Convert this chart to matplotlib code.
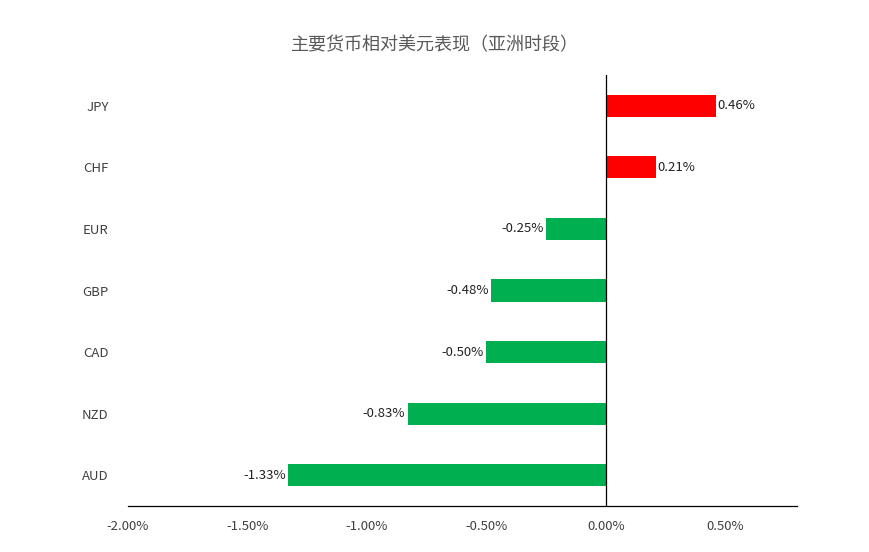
import matplotlib
matplotlib.use("Agg")
import matplotlib.pyplot as plt

plt.rcParams['font.family'] = ['Noto Sans CJK SC', 'DejaVu Sans']

categories = ["AUD", "NZD", "CAD", "GBP", "EUR", "CHF", "JPY"]
values = [-1.33, -0.83, -0.50, -0.48, -0.25, 0.21, 0.46]
xticks = [-2.0, -1.5, -1.0, -0.5, 0.0, 0.5]
title = "主要货币相对美元表现（亚洲时段）"

fig = plt.figure(figsize=(8.69, 5.52), dpi=100)
ax = fig.add_axes([128/869, 46/552, (797-128)/869, (506-75)/552])
colors = ["#FF0000" if v > 0 else "#00B050" for v in values]
ypos = list(range(len(categories)))
ax.barh(ypos, values, height=0.36, color=colors)
for y, v in zip(ypos, values):
    ax.text(v + (0.005 if v > 0 else -0.01), y, f"{v:.2f}%",
            ha="left" if v > 0 else "right", va="center", fontsize=9.5, color="#222222")
ax.axvline(0, color="black", lw=0.9)
ax.set_xlim(-2.0, 0.8)
ax.set_ylim(-0.5, 6.5)
ax.set_yticks(ypos)
ax.set_yticklabels(categories, fontsize=9.5, color="#404040")
ax.set_xticks(xticks)
ax.set_xticklabels([f"{t:.2f}%" for t in xticks], fontsize=9.5, color="#404040")
ax.tick_params(axis="both", length=0)
ax.tick_params(axis="y", pad=14)
ax.tick_params(axis="x", pad=10)
for s in ["top", "right", "left"]:
    ax.spines[s].set_visible(False)
ax.spines["bottom"].set_color("black")
ax.spines["bottom"].set_linewidth(0.9)
fig.text(0.5, 1 - 45/552, title, ha="center", va="center", fontsize=13, color="#595959")
fig.savefig("out.png", dpi=100)
